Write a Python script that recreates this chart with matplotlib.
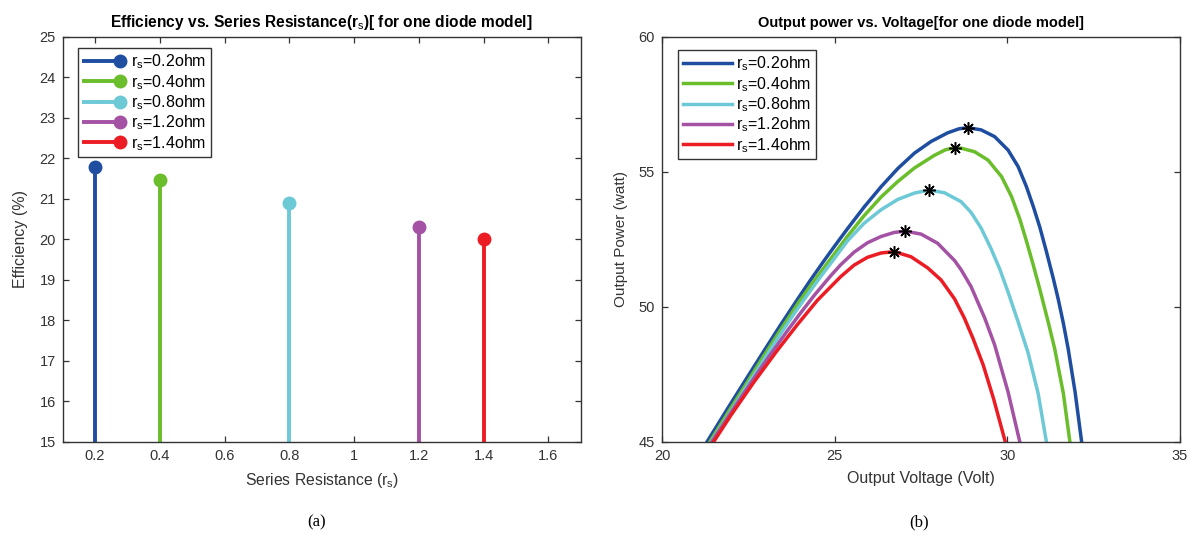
import numpy as np
import matplotlib
matplotlib.use('Agg')
import matplotlib.pyplot as plt
from matplotlib.lines import Line2D
from matplotlib.legend_handler import HandlerLine2D

plt.rcParams['font.family'] = ['Liberation Sans', 'DejaVu Sans']
plt.rcParams['mathtext.fontset'] = 'custom'
plt.rcParams['mathtext.rm'] = 'Liberation Sans'
plt.rcParams['mathtext.it'] = 'Liberation Sans'

# efficiency for each series resistance
rs_vals = [0.2, 0.4, 0.8, 1.2, 1.4]
efficiency = [21.8, 21.48, 20.9, 20.32, 20.02]
labels = ['r$_\\mathrm{s}$=0.2ohm', 'r$_\\mathrm{s}$=0.4ohm', 'r$_\\mathrm{s}$=0.8ohm',
          'r$_\\mathrm{s}$=1.2ohm', 'r$_\\mathrm{s}$=1.4ohm']
colors = ['#1f4ea0', '#6abd2b', '#6dc9d6', '#a452a3', '#ec1c24']

# P-V curves (volt, watt)
v_02 = [21.30, 21.88, 22.46, 22.95, 23.43, 23.90, 24.30, 24.70, 25.0, 25.37, 25.85, 26.34, 26.82,
        27.31, 27.79, 28.27, 28.60, 28.86, 29.24, 29.63, 30.02, 30.31, 30.55, 30.75, 30.94, 31.13,
        31.33, 31.47, 31.62, 31.76, 31.96, 32.15]
p_02 = [45.0, 46.2, 47.38, 48.37, 49.33, 50.24, 51.0, 51.73, 52.26, 52.9, 53.7, 54.45, 55.12,
        55.7, 56.13, 56.45, 56.6, 56.64, 56.56, 56.31, 55.81, 55.2, 54.46, 53.72, 52.95, 52.05,
        51.05, 50.3, 49.4, 48.45, 46.85, 45.0]
v_04 = [21.38, 21.9, 22.46, 22.95, 23.43, 23.96, 24.45, 24.98, 25.37, 25.85, 26.34, 26.82, 27.31,
        27.89, 28.20, 28.47, 28.66, 29.05, 29.44, 29.83, 30.12, 30.36, 30.55, 30.75, 30.94, 31.18,
        31.37, 31.62, 31.81]
p_04 = [45.0, 46.07, 47.2, 48.2, 49.15, 50.18, 51.05, 51.95, 52.62, 53.38, 54.07, 54.64, 55.15,
        55.62, 55.82, 55.90, 55.88, 55.75, 55.44, 54.83, 54.09, 53.25, 52.45, 51.55, 50.65, 49.45,
        48.45, 46.8, 45.0]
v_08 = [21.42, 21.95, 22.46, 22.95, 23.43, 23.85, 24.21, 24.59, 24.98, 25.37, 25.85, 26.34, 26.82,
        27.31, 27.74, 28.18, 28.66, 28.95, 29.24, 29.53, 29.78, 30.02, 30.31, 30.60, 30.89, 31.13]
p_08 = [45.0, 46.05, 47.08, 48.05, 49.0, 49.8, 50.45, 51.12, 51.78, 52.45, 53.1, 53.6, 53.98,
        54.22, 54.33, 54.23, 53.9, 53.5, 52.92, 52.15, 51.4, 50.55, 49.45, 48.3, 46.8, 45.0]
v_12 = [21.44, 21.95, 22.46, 22.95, 23.63, 24.0, 24.40, 24.88, 25.17, 25.56, 25.95, 26.34, 26.72,
        27.04, 27.50, 27.98, 28.47, 28.66, 28.95, 29.34, 29.63, 30.02, 30.36]
p_12 = [45.0, 46.0, 46.98, 47.9, 49.12, 49.76, 50.42, 51.15, 51.56, 52.03, 52.38, 52.61, 52.76,
        52.81, 52.7, 52.36, 51.72, 51.38, 50.75, 49.6, 48.6, 46.85, 45.0]
v_14 = [21.49, 22.0, 22.65, 23.3, 23.92, 24.5, 25.17, 25.56, 25.95, 26.34, 26.72, 27.21, 27.69,
        28.08, 28.47, 28.75, 29.0, 29.3, 29.6, 29.94]
p_14 = [45.0, 46.0, 47.2, 48.33, 49.35, 50.25, 51.12, 51.55, 51.84, 52.0, 52.05, 51.86, 51.45,
        51.0, 50.3, 49.6, 48.85, 47.85, 46.6, 45.0]
curves_v = [v_02, v_04, v_08, v_12, v_14]
curves_p = [p_02, p_04, p_08, p_12, p_14]

# maximum power points
mpp_v = [28.86, 28.47, 27.74, 27.04, 26.72]
mpp_p = [56.64, 55.90, 54.33, 52.81, 52.05]


class EndMarker(HandlerLine2D):
    # stem-style legend entry: line with the marker at its right end
    def create_artists(self, legend, orig_handle, xdescent, ydescent, width, height, fontsize, trans):
        y = (height - ydescent) / 2
        line = Line2D([-xdescent, -xdescent + width], [y, y], color=orig_handle.get_color(),
                      lw=orig_handle.get_linewidth(), solid_capstyle='butt', transform=trans)
        mark = Line2D([-xdescent + width - 4], [y], marker='o', ls='none',
                      ms=orig_handle.get_markersize(), color=orig_handle.get_color(), transform=trans)
        return [line, mark]


def style_axes(ax):
    for s in ax.spines.values():
        s.set_color('#333333')
        s.set_linewidth(1.0)
    ax.tick_params(direction='in', top=True, right=True, length=4, width=0.9,
                   colors='#333333', labelsize=10.5, labelcolor='#333333', pad=5)


fig = plt.figure(figsize=(12, 5.4), dpi=100)
ax1 = fig.add_axes([0.0522, 0.1815, 0.4317, 0.75])
ax2 = fig.add_axes([0.5517, 0.1815, 0.4317, 0.75])

handles = []
for x, y, c, lab in zip(rs_vals, efficiency, colors, labels):
    ax1.plot([x, x], [15, y], color=c, lw=2.8, solid_capstyle='butt', zorder=2)
    ax1.plot([x], [y], 'o', color=c, ms=9, zorder=3)
    handles.append(Line2D([0, 1], [0, 0], color=c, lw=2.8, marker='o', ms=9, label=lab))

ax1.set_xlim(0.1, 1.7)
ax1.set_ylim(15, 25)
ax1.set_xticks([0.2, 0.4, 0.6, 0.8, 1.0, 1.2, 1.4, 1.6])
ax1.set_xticklabels(['0.2', '0.4', '0.6', '0.8', '1', '1.2', '1.4', '1.6'])
ax1.set_yticks(np.arange(15, 26, 1))
style_axes(ax1)
ax1.set_xlabel('Series Resistance (r$_\\mathrm{s}$)', fontsize=11.3, color='#333333', labelpad=6)
ax1.set_ylabel('Efficiency (%)', fontsize=11.5, color='#333333', labelpad=8)
ax1.set_title('Efficiency vs. Series Resistance(r$_\\mathrm{s}$)[ for one diode model]',
              fontsize=11.2, fontweight='bold', pad=7)
leg1 = ax1.legend(handles=handles, loc='upper left', bbox_to_anchor=(0.029, 0.973),
                  handler_map={Line2D: EndMarker()}, fontsize=11.5, borderaxespad=0,
                  handlelength=2.7, handletextpad=0.35, labelspacing=0.1,
                  borderpad=0.3, fancybox=False, framealpha=1)
leg1.get_frame().set_edgecolor('#333333')
leg1.get_frame().set_linewidth(1.0)

for v, p, c, lab in zip(curves_v, curves_p, colors, labels):
    ax2.plot(v, p, color=c, lw=2.5, label=lab, solid_joinstyle='round')
for x, y in zip(mpp_v, mpp_p):
    ax2.plot([x], [y], marker=(8, 2, 0), color='black', ms=9, mew=1.1, zorder=5)

ax2.set_xlim(20, 35)
ax2.set_ylim(45, 60)
ax2.set_xticks([20, 25, 30, 35])
ax2.set_yticks([45, 50, 55, 60])
style_axes(ax2)
ax2.set_xlabel('Output Voltage (Volt)', fontsize=11.5, color='#333333', labelpad=6)
ax2.set_ylabel('Output Power (watt)', fontsize=11, color='#333333', labelpad=8)
ax2.set_title('Output power vs. Voltage[for one diode model]',
              fontsize=10.5, fontweight='bold', pad=7)
leg2 = ax2.legend(loc='upper left', bbox_to_anchor=(0.031, 0.968), fontsize=11.5,
                  borderaxespad=0, handlelength=3.1, handletextpad=0.2, labelspacing=0.1,
                  borderpad=0.3, fancybox=False, framealpha=1)
leg2.get_frame().set_edgecolor('#333333')
leg2.get_frame().set_linewidth(1.0)

fig.text(0.2642, 0.025, '(a)', ha='center', fontsize=12, family='Liberation Serif')
fig.text(0.766, 0.025, '(b)', ha='center', fontsize=12, family='Liberation Serif')

fig.savefig('out.png', dpi=100)
